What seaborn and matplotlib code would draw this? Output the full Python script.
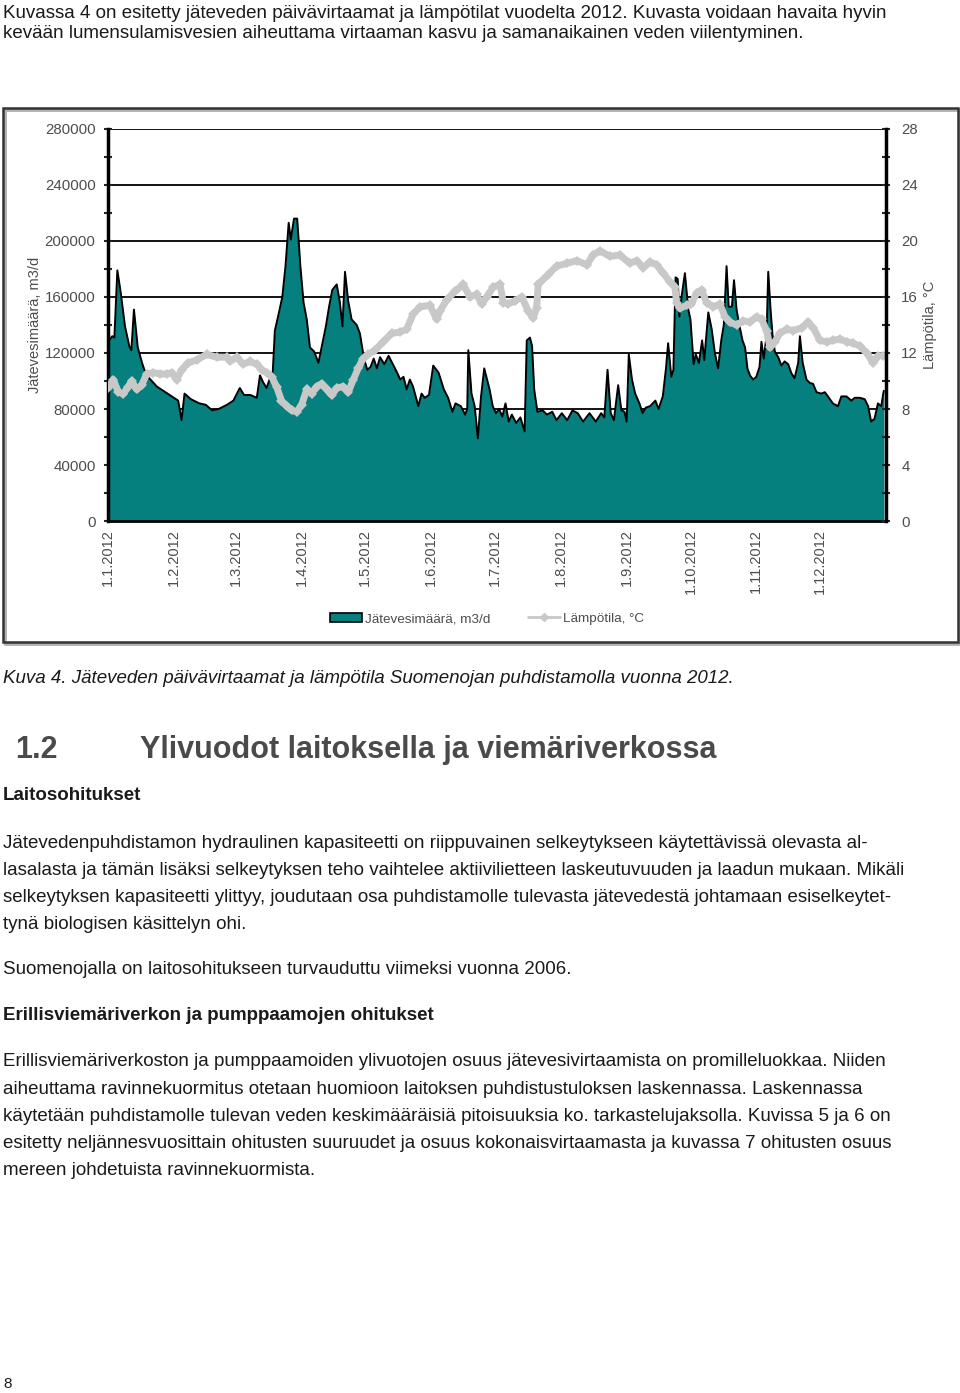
import pandas as pd
import seaborn as sns
import matplotlib.pyplot as plt
from matplotlib.patches import Rectangle, Patch
from matplotlib.lines import Line2D
from matplotlib.ticker import MultipleLocator, FuncFormatter

# Päivä vuoden alusta ja jätevesimäärä (1000 m3/d), luettu kuvasta
virtaama_paiva = [0, 2, 3, 4.4, 6, 8, 10, 11, 12.2, 14, 16, 18, 20, 23, 27, 30, 33, 34.6, 36, 39,
                  43, 46, 49, 52, 56, 59, 62, 64, 67, 70, 71.5, 73, 74.6, 76, 77.5, 78.5, 80, 82,
                  83.5, 85, 86, 87.5, 89, 90.5, 92, 93.5, 95, 97, 99, 100.5, 102.5, 104, 105.5,
                  107.6, 109, 110.3, 111.5, 113, 114.6, 117, 118.5, 120, 121, 122, 123.5, 125,
                  126.5, 128, 130, 132, 134, 136, 137.5, 139, 140.5, 142, 143.5, 146, 147.5, 149,
                  151, 153, 155.5, 158, 160, 162, 163.5, 166, 168, 169, 169.5, 171, 172.5, 174,
                  175.5, 177, 179.5, 181, 182.5, 184, 185.5, 187, 188.5, 190, 192, 194, 196, 197,
                  198.5, 199.5, 200.5, 202, 204.5, 206.5, 209, 211, 213.5, 216, 218.5, 221, 223.5,
                  226.5, 229.5, 232, 233.5, 235, 236.5, 238, 240, 241.5, 243, 244, 245, 246.5, 248,
                  250, 251.5, 253, 255, 257.5, 259, 261, 262.5, 263.5, 265, 266, 267, 268, 268.8,
                  269.8, 271.4, 273, 274, 275.5, 276.5, 278, 279.5, 280.5, 282.4, 284, 285.5, 287,
                  288.5, 289.7, 291, 292, 293.5, 294.5, 295.7, 297, 298.5, 299.7, 300.8, 302, 303.5,
                  305, 306.5, 307.4, 308.5, 309.8, 310.6, 311.7, 312.6, 313.7, 315.3, 316.8, 318.3,
                  320, 321.5, 323, 324.7, 325.5, 326.8, 328.6, 330.2, 331.7, 333.3, 335.6, 337.2,
                  338.7, 341, 343.4, 345, 347.4, 349.7, 351.3, 353.7, 356, 357.6, 359, 360.6, 362.2,
                  363.8, 364.7, 365]
virtaama_k = [128, 132, 131, 179, 163, 139, 125, 122, 151, 124, 113, 104, 101, 96, 92, 89, 86, 72, 91, 87,
              84, 83, 79, 80, 83, 86, 95, 90, 90, 88, 104, 99, 95, 101, 106, 136, 146, 160,
              182, 213, 201, 216, 216, 182, 156, 144, 124, 121, 113, 124, 139, 153, 165,
              169, 157, 139, 178, 157, 144, 140, 134, 120, 113, 108, 110, 116,
              109, 117, 112, 118, 112, 106, 101, 103, 94, 101, 96, 82, 91, 88,
              90, 111, 106, 94, 88, 78, 84, 82, 76, 80, 122, 91, 82, 59,
              89, 109, 94, 82, 77, 80, 74.5, 84, 71, 76, 70, 74, 64, 129,
              131, 125, 94, 78, 79, 76, 78, 72, 77, 72, 79, 77, 71,
              77, 71, 77, 74, 108, 77, 72, 97, 79, 78, 71, 119, 101, 91,
              84, 77, 81, 82, 86, 80, 89, 109, 127, 103, 108, 174, 173, 146,
              160, 177, 151, 144, 112, 119, 113, 129, 115, 149, 137, 120, 109,
              129, 140, 182, 153, 153, 172, 151, 140, 129, 124, 109, 104, 101,
              103, 110, 128, 116, 132, 178, 151, 133, 121, 117, 111, 114,
              112, 105.5, 102, 113, 132, 113, 101, 98.6, 98, 92, 91, 92,
              89, 84, 82, 89, 89, 86, 88, 88, 87, 82, 71, 73, 84,
              82, 91, 93]

# Päivä vuoden alusta ja lämpötila (°C)
lampo_paiva = [0, 2.5, 4.9, 7.2, 9.6, 11.1, 13.5, 15.8, 18.2, 21.3, 24.5, 27.6, 30, 32.3, 34.6, 37.8,
               41.7, 46.4, 51.1, 55.8, 57.4, 60.5, 63.7, 66.8, 69.9, 72.3, 74.6, 77, 79.3, 81.6, 84,
               86.4, 88.8, 91.1, 93.5, 95.8, 98.1, 100.5, 102.8, 105.2, 107.6, 110.7, 113, 115.4,
               117.7, 120, 122.5, 125.6, 129.5, 133.4, 137.4, 140.5, 143.6, 146.8, 151.5, 154.6,
               156.2, 159.3, 163.2, 167.1, 170.3, 173.4, 175.8, 178.1, 181.2, 184.4, 186, 188,
               191.4, 194.6, 197.7, 200, 201.6, 202.4, 207, 211, 215.8, 220.5, 225.2, 228.3, 231.4,
               236.1, 240.8, 245.5, 248.7, 251.8, 254.9, 258.1, 261.2, 264.3, 266.7, 267.5, 269,
               272.2, 274.5, 276.9, 279.3, 281.6, 284.8, 287.9, 290.2, 292.6, 295.7, 298.8, 302,
               305.1, 307.5, 309.8, 311.4, 313.7, 316.1, 319.2, 322.4, 326.3, 329.4, 331.8, 334.9,
               338.1, 341.2, 344.3, 347.5, 350.6, 353.7, 356.9, 360, 362.4, 364.7]
lampo_c = [9.5, 10.1, 9.2, 9.1, 9.6, 10.0, 9.4, 9.7, 10.5, 10.6, 10.5, 10.5, 10.6, 10.1, 10.8, 11.3,
           11.5, 11.9, 11.7, 11.7, 11.4, 11.7, 11.2, 11.4, 11.2, 10.8, 10.6, 10.3, 9.6, 8.6, 8.2,
           7.9, 7.8, 8.3, 9.4, 9.1, 9.6, 9.8, 9.4, 9.0, 9.5, 9.6, 9.2, 10.1,
           10.9, 11.6, 11.9, 12.2, 12.8, 13.4, 13.5, 13.7, 14.8, 15.3, 15.4, 14.4,
           15.0, 15.8, 16.4, 16.9, 16.0, 16.2, 15.5, 16.0, 16.7, 16.9, 15.6, 15.5,
           15.7, 16.0, 15.0, 14.5, 15.2, 16.9, 17.6, 18.2, 18.4, 18.6, 18.3, 19.0, 19.3,
           18.9, 19.0, 18.4, 18.6, 18.1, 18.5, 18.3, 17.7, 17.1, 16.7, 15.6, 15.2,
           15.4, 15.5, 16.3, 16.5, 15.6, 15.3, 15.5, 14.6, 14.2, 14.0, 14.3, 14.2,
           14.6, 14.4, 13.6, 12.4, 12.8, 13.4, 13.7, 13.6, 13.8, 14.2, 13.8, 12.9,
           12.8, 12.9, 13.0, 12.8, 12.7, 12.5, 12.0, 11.3, 11.8, 11.8]

kk_nimet = ['1.1.2012', '1.2.2012', '1.3.2012', '1.4.2012', '1.5.2012', '1.6.2012',
            '1.7.2012', '1.8.2012', '1.9.2012', '1.10.2012', '1.11.2012', '1.12.2012']

alku = pd.Timestamp('2012-01-01')
df_v = pd.DataFrame({'pvm': alku + pd.to_timedelta(virtaama_paiva, unit='D'),
                     'virtaama': [v * 1000 for v in virtaama_k]})
df_t = pd.DataFrame({'pvm': alku + pd.to_timedelta(lampo_paiva, unit='D'),
                     'lampo': lampo_c})

W, H = 960, 1393
sns.set_theme(style='white')
plt.rcParams['font.family'] = ['Liberation Sans', 'DejaVu Sans']

fig = plt.figure(figsize=(W / 100, H / 100), dpi=100)


def fx(x):
    return x / W


def fy(y):
    return 1 - y / H


teksti = '#1a1a1a'
harmaa = '#4d4d4d'
koko = 13.5

# Kappale ennen kuvaa
fig.text(fx(3), fy(14), 'Kuvassa 4 on esitetty jäteveden päivävirtaamat ja lämpötilat vuodelta 2012. '
         'Kuvasta voidaan havaita hyvin', fontsize=koko, color=teksti, va='center')
fig.text(fx(3), fy(34), 'kevään lumensulamisvesien aiheuttama virtaaman kasvu ja samanaikainen veden '
         'viilentyminen.', fontsize=koko, color=teksti, va='center')

# Kuvan kehys
fig.patches.append(Rectangle((fx(5), fy(644)), fx(955), 534 / H, transform=fig.transFigure,
                             fill=False, lw=2, ec='#b0b0b0', zorder=0))
fig.patches.append(Rectangle((fx(3), fy(642)), fx(955), 534 / H, transform=fig.transFigure,
                             fill=False, lw=1.8, ec='#333333', zorder=1))

ax = fig.add_axes([fx(108), fy(521), (886 - 108) / W, (521 - 129) / H])
ax.set_axisbelow(True)
ax.fill_between(df_v['pvm'], df_v['virtaama'], color='#067f7f', zorder=2, lw=0)
sns.lineplot(data=df_v, x='pvm', y='virtaama', color='black', lw=1.4, ax=ax, zorder=3)

ax.set_xlim(alku, pd.Timestamp('2013-01-01'))
ax.set_ylim(0, 280000)
ax.yaxis.set_major_locator(MultipleLocator(40000))
ax.yaxis.set_minor_locator(MultipleLocator(20000))
ax.yaxis.set_major_formatter(FuncFormatter(lambda v, p: f'{int(v)}'))
ax.grid(axis='y', which='major', color='black', lw=1.3)
ax.set_xticks(pd.date_range('2012-01-01', periods=12, freq='MS'))
ax.set_xticklabels(kk_nimet, rotation=90, fontsize=10.5, color=harmaa)
ax.tick_params(axis='x', length=0, pad=6)
ax.tick_params(axis='y', which='both', direction='inout', length=6, width=1.5,
               left=True, labelsize=10.8, labelcolor=harmaa, pad=6)
ax.set_xlabel('')
ax.set_ylabel('Jätevesimäärä, m3/d', fontsize=10.5, color=harmaa)
ax.yaxis.set_label_coords(-0.085, 0.5)
for s in ['top', 'right']:
    ax.spines[s].set_visible(False)
ax.spines['left'].set_color('black')
ax.spines['left'].set_linewidth(2.5)
ax.spines['bottom'].set_color('black')
ax.spines['bottom'].set_linewidth(2)

ax2 = ax.twinx()
sns.lineplot(data=df_t, x='pvm', y='lampo', color='#c8c8c8', lw=5, marker='D', markersize=5,
             markeredgewidth=0, ax=ax2)
ax2.set_ylim(0, 28)
ax2.yaxis.set_major_locator(MultipleLocator(4))
ax2.yaxis.set_minor_locator(MultipleLocator(2))
ax2.tick_params(axis='y', which='both', direction='inout', length=6, width=1.5,
                right=True, labelsize=10.8, labelcolor=harmaa, pad=8)
ax2.set_ylabel('Lämpötila, °C', fontsize=10.5, color=harmaa)
ax2.yaxis.set_label_coords(1.048, 0.5)
for s in ['top', 'left', 'bottom']:
    ax2.spines[s].set_visible(False)
ax2.spines['right'].set_color('black')
ax2.spines['right'].set_linewidth(2.5)

kahvat = [Patch(facecolor='#067f7f', edgecolor='black', lw=1.2),
          Line2D([0], [0], color='#c8c8c8', lw=2, marker='D', markersize=4)]
fig.legend(kahvat, ['Jätevesimäärä, m3/d', 'Lämpötila, °C'], loc='center',
           bbox_to_anchor=(fx(487), fy(619)), ncol=2, frameon=False, fontsize=9.7,
           handlelength=2.4, columnspacing=2.8, handletextpad=0.2, labelcolor=harmaa)

# Kuvateksti
fig.text(fx(3), fy(678), 'Kuva 4. Jäteveden päivävirtaamat ja lämpötila Suomenojan puhdistamolla '
         'vuonna 2012.', fontsize=koko, style='italic', color=teksti, va='center')

# Otsikot
fig.text(fx(15), fy(750), '1.2', fontsize=22, weight='bold', color='#4a4a4a', va='center')
fig.text(fx(140), fy(750), 'Ylivuodot laitoksella ja viemäriverkossa', fontsize=22, weight='bold',
         color='#4a4a4a', va='center')
fig.text(fx(3), fy(796), 'Laitosohitukset', fontsize=13.5, weight='bold', color=teksti, va='center')

kappale1 = ['Jätevedenpuhdistamon hydraulinen kapasiteetti on riippuvainen selkeytykseen käytettävissä olevasta al-',
            'lasalasta ja tämän lisäksi selkeytyksen teho vaihtelee aktiivilietteen laskeutuvuuden ja laadun mukaan. Mikäli',
            'selkeytyksen kapasiteetti ylittyy, joudutaan osa puhdistamolle tulevasta jätevedestä johtamaan esiselkeytet-',
            'tynä biologisen käsittelyn ohi.']
for i, rivi in enumerate(kappale1):
    fig.text(fx(3), fy(843 + i * 27.2), rivi, fontsize=koko, color=teksti, va='center')

fig.text(fx(3), fy(970), 'Suomenojalla on laitosohitukseen turvauduttu viimeksi vuonna 2006.',
         fontsize=koko, color=teksti, va='center')
fig.text(fx(3), fy(1016), 'Erillisviemäriverkon ja pumppaamojen ohitukset', fontsize=13.5,
         weight='bold', color=teksti, va='center')

kappale2 = ['Erillisviemäriverkoston ja pumppaamoiden ylivuotojen osuus jätevesivirtaamista on promilleluokkaa. Niiden',
            'aiheuttama ravinnekuormitus otetaan huomioon laitoksen puhdistustuloksen laskennassa. Laskennassa',
            'käytetään puhdistamolle tulevan veden keskimääräisiä pitoisuuksia ko. tarkastelujaksolla. Kuvissa 5 ja 6 on',
            'esitetty neljännesvuosittain ohitusten suuruudet ja osuus kokonaisvirtaamasta ja kuvassa 7 ohitusten osuus',
            'mereen johdetuista ravinnekuormista.']
for i, rivi in enumerate(kappale2):
    fig.text(fx(3), fy(1062 + i * 27.2), rivi, fontsize=koko, color=teksti, va='center')

fig.text(fx(3), fy(1384), '8', fontsize=11, color=teksti, va='center')

plt.savefig('out.png', dpi=100)
